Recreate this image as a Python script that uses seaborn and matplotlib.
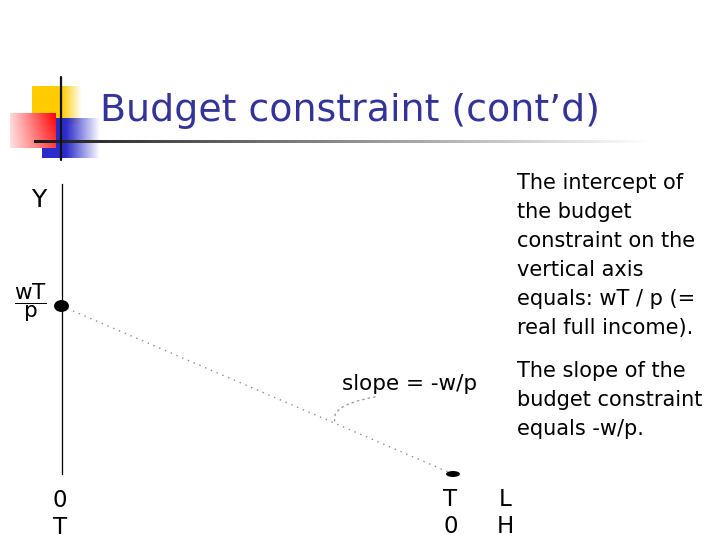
import numpy as np
import matplotlib
matplotlib.use("Agg")
import matplotlib.pyplot as plt
from matplotlib.path import Path
from matplotlib.markers import MarkerStyle
import seaborn as sns

# ---------------- data ----------------
leisure_hours = [0, 24]          # L: from 0 to T
real_consumption = [120, 0]      # Y: wT/p at L = 0, 0 at L = T
title = "Budget constraint (cont\u2019d)"
paragraph1 = ["The intercept of", "the budget", "constraint on the",
              "vertical axis", "equals: wT / p (=", "real full income)."]
paragraph2 = ["The slope of the", "budget constraint", "equals -w/p."]
slope_label = "slope = -w/p"
y_axis_label = "Y"
intercept_label = r"$\dfrac{\mathrm{wT}}{\mathrm{p}}$"
origin_labels = ["0", "T"]
endpoint_labels = ["T", "0"]
axis_end_labels = ["L", "H"]

# ---------------- style ----------------
sns.set_style("white")
plt.rcParams["font.family"] = ["DejaVu Sans"]
plt.rcParams["text.color"] = "black"
plt.rcParams["mathtext.fontset"] = "dejavusans"

W, H = 720, 540
fig = plt.figure(figsize=(7.2, 5.4), dpi=100)
fig.patch.set_facecolor("white")

bg = fig.add_axes([0, 0, 1, 1])
bg.axis("off")


def grad(x0, x1, y0, y1, rgb, alpha2d, z, opaque=False):
    arr = np.zeros(alpha2d.shape + (4,))
    a = np.clip(alpha2d, 0, 1)
    if opaque:
        for k in range(3):
            arr[..., k] = 1 - a * (1 - rgb[k])
        arr[..., 3] = 1
    else:
        arr[..., :3] = rgb
        arr[..., 3] = a
    bg.imshow(arr, extent=(x0, x1, y1, y0), aspect="auto",
              interpolation="bilinear", zorder=z)


# yellow square
xs = np.linspace(32, 82, 120)
a = np.clip((82 - xs) / 20.0, 0, 1)
grad(32, 82, 86, 124, (1.0, 0.80, 0.0), np.tile(a, (10, 1)), 1)
# blue square
xs = np.linspace(42, 100, 120)
a = np.clip((100 - xs) / 34.0, 0, 1)
grad(42, 100, 118, 158, (0.17, 0.17, 0.80), np.tile(a, (10, 1)), 2)
# red square (opaque, pale pink on the left to red on the right)
xs = np.linspace(10, 56, 120)
ys = np.linspace(113, 148, 60)
XX, YY = np.meshgrid(xs, ys)
a = (0.15 + 0.85 * (XX - 10) / 46.0) * (1 - 0.25 * (YY - 113) / 35.0)
grad(10, 56, 113, 148, (1.0, 0.0, 0.0), a, 3, opaque=True)
# title rule with fading gradient
g = np.linspace(0.1, 1.0, 300)
rule = np.zeros((1, 300, 4))
rule[0, :, 0] = g
rule[0, :, 1] = g
rule[0, :, 2] = g
rule[0, :, 3] = 1
bg.imshow(rule, extent=(34, 650, 143.5, 140.5), aspect="auto",
          interpolation="bilinear", zorder=4)
# vertical black bar of the logo
bg.plot([61, 61], [77, 160], color="#111111", lw=1.6, zorder=5)

bg.set_xlim(0, W)
bg.set_ylim(H, 0)

# title
bg.text(100, 121, title, fontsize=27.3, color="#333399",
        ha="left", va="baseline", zorder=6)

# body text
for i, line in enumerate(paragraph1):
    bg.text(517, 189 + 29 * i, line, fontsize=15, color="black",
            ha="left", va="baseline")
for i, line in enumerate(paragraph2):
    bg.text(517, 377 + 29 * i, line, fontsize=15, color="black",
            ha="left", va="baseline")

# ---------------- chart ----------------
ax_left, ax_right, ax_top, ax_bottom = 61.5, 453, 184, 474
ax = fig.add_axes([ax_left / W, 1 - ax_bottom / H,
                   (ax_right - ax_left) / W, (ax_bottom - ax_top) / H])
ax.set_facecolor("none")
ymax = max(real_consumption) * (ax_bottom - ax_top) / (ax_bottom - 306)
ax.set_xlim(min(leisure_hours), max(leisure_hours))
ax.set_ylim(0, ymax)

sns.lineplot(x=leisure_hours, y=real_consumption, ax=ax, color="#8c8c8c",
             lw=1.0, linestyle=(0, (1, 3.5)), clip_on=False)


def ellipse(r):
    c = Path.unit_circle()
    return MarkerStyle(Path(c.vertices * np.array([1.0, r]), c.codes))


sns.scatterplot(x=[leisure_hours[0]], y=[real_consumption[0]], ax=ax,
                marker=ellipse(0.8), s=115, color="black",
                edgecolor="none", clip_on=False, zorder=5)
sns.scatterplot(x=[leisure_hours[1]], y=[real_consumption[1]], ax=ax,
                marker=ellipse(0.43), s=100, color="black",
                edgecolor="none", clip_on=False, zorder=5)

for side in ["top", "right", "bottom"]:
    ax.spines[side].set_visible(False)
ax.spines["left"].set_color("black")
ax.spines["left"].set_linewidth(0.9)
ax.set_xticks([])
ax.set_yticks([])
ax.set_xlabel("")
ax.set_ylabel("")

# axis labels
bg.text(39, 207, y_axis_label, fontsize=18, color="black",
        ha="center", va="baseline")
bg.text(30, 302.5, intercept_label, fontsize=15.5, color="black",
        ha="center", va="center")

lab_kw = dict(fontsize=16.5, color="black", ha="center", va="baseline")
bg.text(60, 507, origin_labels[0], **lab_kw)
bg.text(60, 534, origin_labels[1], **lab_kw)
bg.text(450, 506, endpoint_labels[0], **lab_kw)
bg.text(451, 533, endpoint_labels[1], **lab_kw)
bg.text(505, 506, axis_end_labels[0], **lab_kw)
bg.text(505, 533, axis_end_labels[1], **lab_kw)

# slope label with curved dotted leader to the budget line
bg.text(342, 390, slope_label, fontsize=15.5, color="black",
        ha="left", va="baseline")
frac = 0.7
px = leisure_hours[0] + frac * (leisure_hours[1] - leisure_hours[0])
py = real_consumption[0] + frac * (real_consumption[1] - real_consumption[0])
bg.annotate("", xy=(px, py), xycoords=ax.transData,
            xytext=(375, 397), textcoords=bg.transData,
            arrowprops=dict(arrowstyle="-", color="#999999", lw=1.0,
                            linestyle=(0, (1, 3)),
                            connectionstyle="angle3,angleA=190,angleB=115",
                            shrinkA=0, shrinkB=0))

fig.savefig("out.png", dpi=100, facecolor="white")
